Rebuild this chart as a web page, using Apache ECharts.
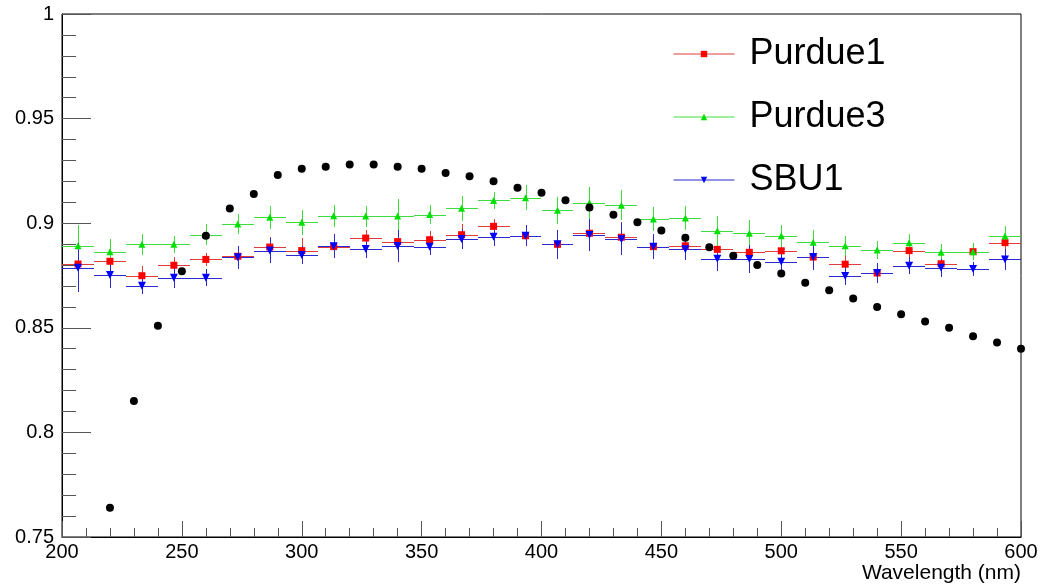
<!DOCTYPE html>
<html>
<head>
<meta charset="utf-8">
<script src="https://cdn.jsdelivr.net/npm/echarts@6/dist/echarts.min.js"></script>
<style>
  html, body { margin: 0; padding: 0; background: #fff; }
  #chart { width: 1055px; height: 586px; }
</style>
</head>
<body>
<div id="chart"></div>
<script>
// bin centres (nm), bins are 13.33 nm wide
const binCenters = [206.67, 220, 233.33, 246.67, 260, 273.33, 286.67, 300, 313.33, 326.67,
  340, 353.33, 366.67, 380, 393.33, 406.67, 420, 433.33, 446.67, 460,
  473.33, 486.67, 500, 513.33, 526.67, 540, 553.33, 566.67, 580, 593.33]
const binHalfWidth = 6.667

const purdue1 = [0.8805, 0.8818, 0.8749, 0.8799, 0.8827, 0.8842, 0.8886, 0.8869, 0.8888, 0.8929,
  0.8912, 0.8921, 0.8945, 0.8985, 0.8940, 0.8899, 0.8952, 0.8933, 0.8888, 0.8892,
  0.8875, 0.8861, 0.8868, 0.8838, 0.8804, 0.8762, 0.8869, 0.8806, 0.8864, 0.8907]
const purdue1Err = [0.005, 0.004, 0.0048, 0.004, 0.003, 0.003, 0.005, 0.006, 0.0045, 0.004,
  0.004, 0.0042, 0.005, 0.0037, 0.0036, 0.004, 0.0064, 0.0072, 0.0048, 0.004,
  0.004, 0.004, 0.004, 0.004, 0.0041, 0.0048, 0.003, 0.003, 0.003, 0.004]

const purdue3 = [0.8892, 0.8864, 0.8899, 0.8899, 0.8944, 0.8996, 0.9028, 0.9005, 0.9036, 0.9034,
  0.9034, 0.9041, 0.9071, 0.9109, 0.9122, 0.9062, 0.9098, 0.9086, 0.9020, 0.9025,
  0.8964, 0.8952, 0.8940, 0.8909, 0.8892, 0.8872, 0.8907, 0.8861, 0.8864, 0.8939]
const purdue3Err = [0.01, 0.006, 0.005, 0.004, 0.005, 0.005, 0.0055, 0.006, 0.0053, 0.005,
  0.008, 0.0045, 0.006, 0.004, 0.006, 0.0064, 0.0076, 0.0073, 0.0056, 0.0057,
  0.0072, 0.0065, 0.0052, 0.0057, 0.0048, 0.0041, 0.004, 0.0038, 0.0041, 0.005]

const sbu1 = [0.8787, 0.8752, 0.8701, 0.8739, 0.8739, 0.8837, 0.8869, 0.8848, 0.8890, 0.8877,
  0.8891, 0.8888, 0.8924, 0.8935, 0.8940, 0.8899, 0.8944, 0.8923, 0.8888, 0.8875,
  0.8830, 0.8829, 0.8816, 0.8838, 0.8748, 0.8762, 0.8797, 0.8787, 0.8781, 0.8827]
const sbu1Err = [0.0118, 0.006, 0.004, 0.005, 0.004, 0.0056, 0.0058, 0.0045, 0.0056, 0.0042,
  0.0076, 0.004, 0.0046, 0.0044, 0.005, 0.007, 0.0076, 0.0076, 0.0058, 0.0052,
  0.0057, 0.0065, 0.0056, 0.0064, 0.0045, 0.0046, 0.004, 0.0044, 0.0034, 0.005]

// reference curve (black dots)
const refWavelength = [220, 230, 240, 250, 260, 270, 280, 290, 300, 310, 320, 330, 340,
  350, 360, 370, 380, 390, 400, 410, 420, 430, 440, 450, 460, 470, 480, 490, 500,
  510, 520, 530, 540, 550, 560, 570, 580, 590, 600]
const refValue = [0.764, 0.815, 0.851, 0.877, 0.894, 0.907, 0.914, 0.923, 0.926, 0.927,
  0.928, 0.928, 0.927, 0.926, 0.924, 0.9225, 0.920, 0.917, 0.9145, 0.911,
  0.9075, 0.904, 0.9005, 0.8965, 0.893, 0.8885, 0.8845, 0.880, 0.876, 0.8715,
  0.868, 0.864, 0.860, 0.8565, 0.853, 0.850, 0.846, 0.843, 0.840]

const font = 'Liberation Sans'

const groups = [
  { name: 'Purdue1', values: purdue1, errs: purdue1Err, color: '#ff0000', bar: '#e03a3a', symbol: 'rect', size: 7, rotate: 0 },
  { name: 'Purdue3', values: purdue3, errs: purdue3Err, color: '#00e000', bar: '#3ddd3d', symbol: 'triangle', size: 7, rotate: 0 },
  { name: 'SBU1', values: sbu1, errs: sbu1Err, color: '#0000ff', bar: '#2a2ad0', symbol: 'triangle', size: 8, rotate: 180 }
]

// snap to the pixel grid so 1px lines stay crisp
const px = v => Math.round(v) + 0.5

function errorBars(color) {
  return function (params, api) {
    const x = api.value(0)
    const y = api.value(1)
    const ey = api.value(2)
    const l = api.coord([x - binHalfWidth, y])
    const r = api.coord([x + binHalfWidth, y])
    const t = api.coord([x, y + ey])
    const b = api.coord([x, y - ey])
    const style = { stroke: color, lineWidth: 1 }
    return {
      type: 'group',
      children: [
        { type: 'line', shape: { x1: Math.round(l[0]), y1: px(l[1]), x2: Math.round(r[0]), y2: px(r[1]) }, style: style },
        { type: 'line', shape: { x1: px(t[0]), y1: Math.round(t[1]), x2: px(b[0]), y2: Math.round(b[1]) }, style: style }
      ]
    }
  }
}

const series = []
groups.forEach(g => {
  series.push({
    name: g.name,
    type: 'line',
    data: binCenters.map((x, i) => [x, g.values[i]]),
    symbol: g.symbol,
    symbolSize: g.size,
    symbolRotate: g.rotate,
    showSymbol: true,
    itemStyle: { color: g.color, opacity: 1 },
    lineStyle: { color: g.bar, opacity: 0 },
    z: 4
  })
})
groups.forEach(g => {
  series.push({
    name: g.name,
    type: 'custom',
    data: binCenters.map((x, i) => [x, g.values[i], g.errs[i]]),
    renderItem: errorBars(g.bar),
    clip: true,
    z: 3
  })
})
series.push({
  name: 'reference',
  type: 'scatter',
  data: refWavelength.map((x, i) => [x, refValue[i]]),
  symbol: 'circle',
  symbolSize: 8,
  itemStyle: { color: '#000', opacity: 1 },
  z: 5
})

const chart = echarts.init(document.getElementById('chart'))
chart.setOption({
  animation: false,
  backgroundColor: '#fff',
  grid: {
    left: 62,
    right: 34,
    top: 14,
    bottom: 49,
    show: true,
    borderColor: '#000',
    borderWidth: 1
  },
  legend: {
    data: ['Purdue1', 'Purdue3', 'SBU1'],
    orient: 'vertical',
    left: 668,
    top: 29,
    itemWidth: 61,
    itemHeight: 8,
    itemGap: 23,
    selectedMode: false,
    lineStyle: { opacity: 1, width: 1 },
    textStyle: { fontFamily: font, fontSize: 36, lineHeight: 40, color: '#000', padding: [0, 0, 0, 10] }
  },
  xAxis: {
    type: 'value',
    min: 200,
    max: 600,
    interval: 50,
    name: 'Wavelength (nm)',
    nameLocation: 'end',
    nameGap: 0,
    nameTextStyle: { fontFamily: font, fontSize: 21, color: '#000', align: 'right', verticalAlign: 'top', padding: [26, 0, 0, 0] },
    axisLine: { lineStyle: { color: '#000', width: 1 } },
    axisTick: { inside: true, length: 16, lineStyle: { color: '#555' } },
    minorTick: { show: true, splitNumber: 5, length: 9, lineStyle: { color: '#555' } },
    splitLine: { show: false },
    axisLabel: { fontFamily: font, fontSize: 20, color: '#000', margin: 5 }
  },
  yAxis: {
    type: 'value',
    min: 0.75,
    max: 1,
    interval: 0.05,
    axisLine: { lineStyle: { color: '#000', width: 1 } },
    axisTick: { inside: true, length: 29, lineStyle: { color: '#555' } },
    minorTick: { show: true, splitNumber: 5, length: 14, lineStyle: { color: '#555' } },
    splitLine: { show: false },
    axisLabel: { fontFamily: font, fontSize: 20, color: '#000', margin: 8 }
  },
  series: series
})
</script>
</body>
</html>
